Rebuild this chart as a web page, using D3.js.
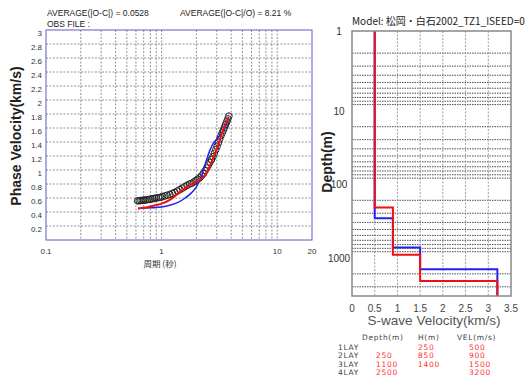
<!DOCTYPE html>
<html><head><meta charset="utf-8">
<script src="https://cdn.jsdelivr.net/npm/d3@7"></script>
<style>body{margin:0;background:#fff}svg{display:block}text{font-family:"Liberation Sans",Arial,sans-serif}</style>
</head><body>
<script>
// ---- Data ----
const obsPeriod = [0.62,0.64,0.66,0.68,0.7,0.72,0.75,0.78,0.81,0.84,0.87,0.9,0.94,0.98,1.02,1.07,1.12,1.18,1.24,1.3,1.37,1.44,1.51,1.58,1.66,1.74,1.82,1.9,1.98,2.06,2.14,2.22,2.3,2.38,2.46,2.54,2.62,2.7,2.78,2.86,2.94,3.02,3.1,3.18,3.26,3.34,3.42,3.5,3.58,3.66,3.74,3.82];
const obsVel    = [0.56,0.56,0.565,0.565,0.57,0.57,0.575,0.58,0.585,0.59,0.595,0.60,0.605,0.61,0.62,0.63,0.64,0.65,0.665,0.68,0.70,0.72,0.74,0.76,0.78,0.80,0.81,0.83,0.85,0.87,0.89,0.92,0.95,0.99,1.03,1.07,1.11,1.15,1.19,1.24,1.29,1.34,1.39,1.44,1.49,1.53,1.57,1.61,1.65,1.69,1.73,1.77];
const calPeriod = [0.625,0.7,0.8,0.9,1.0,1.2,1.4,1.6,1.8,2.0,2.2,2.4,2.6,2.8,3.0,3.2,3.4,3.6,3.8];
const calVel    = [0.45,0.46,0.48,0.50,0.52,0.58,0.67,0.74,0.79,0.83,0.87,0.94,1.05,1.18,1.30,1.44,1.57,1.67,1.76];
const iniPeriod = [0.625,0.8,1.0,1.2,1.4,1.6,1.8,2.0,2.2,2.4,2.6,2.8,3.0,3.2,3.4,3.6,3.8];
const iniVel    = [0.45,0.46,0.47,0.50,0.54,0.60,0.67,0.76,0.90,1.10,1.27,1.38,1.44,1.50,1.55,1.63,1.74];
const yTicks = [0.2,0.4,0.6,0.8,1,1.2,1.4,1.6,1.8,2,2.2,2.4,2.6,2.8,3];
const yTickLabels = ["0.2","0.4","0.6","0.8","1","1.2","1.4","1.6","1.8","2","2.2","2.4","2.6","2.8","3"];
const xTickVals = [0.1,1,10,20];
const xTickLabels = ["0.1","1","10","20"];
const xGrid = [0.2,0.3,0.4,0.5,0.6,0.7,0.8,0.9,1,2,3,4,5,6,7,8,9,10];

// layered models: top depth (m) and Vs (km/s)
const modelTop = [1,250,1100,2500];
const modelVs  = [0.5,0.9,1.5,3.2];
const initTop  = [1,350,880,1730];
const initVs   = [0.5,0.9,1.5,3.2];
const depthGrid = [2,3,4,5,6,7,8,9,10,20,30,40,50,60,70,80,90,100,200,300,400,500,600,700,800,900,1000,2000,3000];
const depthLabels = [1,10,100,1000];
const vsTicks = [0,0.5,1,1.5,2,2.5,3,3.5];
const vsTickLabels = ["0","0.5","1","1.5","2","2.5","3","3.5"];

const tableLay = ["1LAY","2LAY","3LAY","4LAY"];
const tableDepth = ["","250","1100","2500"];
const tableH = ["250","850","1400",""];
const tableVel = ["500","900","1500","3200"];

// ---- Drawing ----
const svg = d3.select("body").append("svg").attr("width",525).attr("height",384);

// Left chart
const x = d3.scaleLog().domain([0.1,20]).range([46,312]);
const y = d3.scaleLinear().domain([0,3]).range([240,30]);

const gl = svg.append("g");
gl.selectAll(".hg").data(yTicks.slice(0,-1)).join("line")
  .attr("x1",46).attr("x2",312).attr("y1",d=>y(d)).attr("y2",d=>y(d))
  .attr("stroke","#777").attr("stroke-width",0.8).attr("stroke-dasharray","2,1.5");
gl.selectAll(".vg").data(xGrid).join("line")
  .attr("x1",d=>x(d)).attr("x2",d=>x(d)).attr("y1",30).attr("y2",240)
  .attr("stroke","#777").attr("stroke-width",0.8).attr("stroke-dasharray","2,1.5");
gl.append("rect").attr("x",46).attr("y",30).attr("width",266).attr("height",210)
  .attr("fill","none").attr("stroke","#5a5ad0").attr("stroke-width",1);

gl.selectAll(".yl").data(yTicks).join("text")
  .attr("x",42).attr("y",d=>y(d)+6).attr("text-anchor","end")
  .attr("font-size",8).attr("fill","#333").text((d,i)=>yTickLabels[i]);
gl.selectAll(".xl").data(xTickVals).join("text")
  .attr("x",d=>x(d)).attr("y",254).attr("text-anchor","middle")
  .attr("font-size",8).attr("fill","#333").text((d,i)=>xTickLabels[i]);

gl.append("text").attr("x",160).attr("y",267).attr("text-anchor","middle")
  .attr("font-size",8.5).attr("fill","#333").style("font-family","'Noto Sans CJK JP'").text("周期 (秒)");
gl.append("text").attr("transform","translate(21,136) rotate(-90)").attr("text-anchor","middle")
  .attr("font-size",14).attr("font-weight","bold").attr("fill","#222").text("Phase Velocity(km/s)");
gl.append("text").attr("x",47).attr("y",16).attr("font-size",8.5).attr("fill","#222").text("AVERAGE(|O-C|) = 0.0528");
gl.append("text").attr("x",180).attr("y",16).attr("font-size",8.5).attr("fill","#222").text("AVERAGE(|O-C|/O) = 8.21 %");
gl.append("text").attr("x",47).attr("y",27).attr("font-size",8.5).attr("fill","#222").text("OBS FILE :");

const obs = obsPeriod.map((p,i)=>[p,obsVel[i]]);
gl.selectAll(".obs").data(obs).join("circle")
  .attr("cx",d=>x(d[0])).attr("cy",d=>y(d[1])).attr("r",3.3)
  .attr("fill","none").attr("stroke","#222").attr("stroke-width",1);
const line = d3.line().x(d=>x(d[0])).y(d=>y(d[1])).curve(d3.curveMonotoneX);
gl.append("path").datum(iniPeriod.map((p,i)=>[p,iniVel[i]])).attr("d",line)
  .attr("fill","none").attr("stroke","#2222ee").attr("stroke-width",1.5);
gl.append("path").datum(calPeriod.map((p,i)=>[p,calVel[i]])).attr("d",line)
  .attr("fill","none").attr("stroke","#ee1111").attr("stroke-width",2);

// Right chart
const vx = d3.scaleLinear().domain([0,3.5]).range([352,511]);
const dy = d3.scaleLog().domain([1,4000]).range([31,296]);
const gr = svg.append("g");
gr.selectAll(".dg").data(depthGrid).join("line")
  .attr("x1",352).attr("x2",511).attr("y1",d=>dy(d)).attr("y2",d=>dy(d))
  .attr("stroke","#222").attr("stroke-width",0.8).attr("stroke-dasharray","1.5,1");
gr.selectAll(".vg").data(vsTicks.slice(1,-1)).join("line")
  .attr("x1",d=>vx(d)).attr("x2",d=>vx(d)).attr("y1",31).attr("y2",296)
  .attr("stroke","#888").attr("stroke-width",0.8).attr("stroke-dasharray","2,1.5");

function stepPath(tops, vs){
  const pts=[];
  tops.forEach((t,i)=>{
    const bot = i<tops.length-1 ? tops[i+1] : 4000;
    pts.push([vs[i],t]); pts.push([vs[i],bot]);
  });
  return d3.line().x(d=>vx(d[0])).y(d=>dy(d[1]))(pts);
}
gr.append("path").attr("d",stepPath(initTop,initVs)).attr("fill","none").attr("stroke","#2222ee").attr("stroke-width",2);
gr.append("path").attr("d",stepPath(modelTop,modelVs)).attr("fill","none").attr("stroke","#ee1111").attr("stroke-width",2);

gr.append("rect").attr("x",352).attr("y",31).attr("width",159).attr("height",265)
  .attr("fill","none").attr("stroke","#888").attr("stroke-width",1.5);

gr.selectAll(".dl").data(depthLabels).join("text")
  .attr("x",339).attr("y",d=>dy(d)+(d===1?4:10)).attr("text-anchor","middle")
  .attr("font-size",10).attr("fill","#333").text(d=>d);
gr.selectAll(".vl").data(vsTicks).join("text")
  .attr("x",d=>vx(d)).attr("y",312).attr("text-anchor","middle")
  .attr("font-size",10).attr("fill","#444").text((d,i)=>vsTickLabels[i]);
gr.append("text").attr("x",434).attr("y",325).attr("text-anchor","middle")
  .attr("font-size",13.5).attr("fill","#555").text("S-wave Velocity(km/s)");
gr.append("text").attr("transform","translate(332,162) rotate(-90)").attr("text-anchor","middle")
  .attr("font-size",14).attr("font-weight","bold").attr("fill","#222").text("Depth(m)");
gr.append("text").attr("x",352).attr("y",25).attr("font-size",10).attr("fill","#222")
  .style("font-family","'Noto Sans CJK JP'").text("Model: 松岡・白石2002_TZ1_ISEED=0");

// Table
const gt = svg.append("g").attr("font-size",7.5).attr("letter-spacing","0.7")
  .style("font-family","'DejaVu Sans'");
gt.append("text").attr("x",362).attr("y",340).attr("fill","#444").style("font-family","'DejaVu Sans'").text("Depth(m)");
gt.append("text").attr("x",418).attr("y",340).attr("fill","#444").style("font-family","'DejaVu Sans'").text("H(m)");
gt.append("text").attr("x",457).attr("y",340).attr("fill","#444").style("font-family","'DejaVu Sans'").text("VEL(m/s)");
const rowY = i=>349.5+i*8.6;
gt.selectAll(".tl").data(tableLay).join("text").attr("x",338).attr("y",(d,i)=>rowY(i)).attr("fill","#444").style("font-family","'DejaVu Sans'").text(d=>d);
gt.selectAll(".td").data(tableDepth).join("text").attr("x",376).attr("y",(d,i)=>rowY(i)).attr("fill","#ff3030").style("font-family","'DejaVu Sans'").text(d=>d);
gt.selectAll(".th").data(tableH).join("text").attr("x",418).attr("y",(d,i)=>rowY(i)).attr("fill","#ff3030").style("font-family","'DejaVu Sans'").text(d=>d);
gt.selectAll(".tv").data(tableVel).join("text").attr("x",469).attr("y",(d,i)=>rowY(i)).attr("fill","#ff3030").style("font-family","'DejaVu Sans'").text(d=>d);
</script>
</body></html>
